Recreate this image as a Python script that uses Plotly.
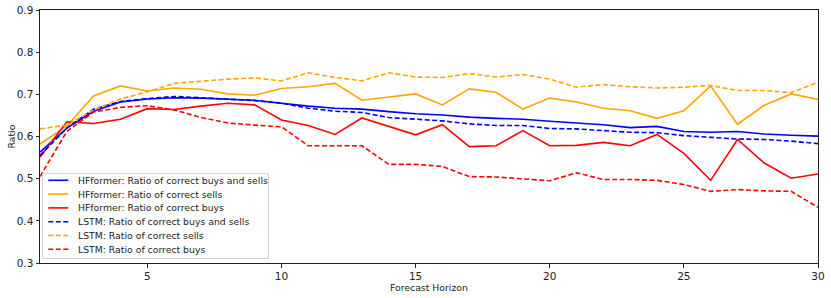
import plotly.graph_objects as go

horizon = list(range(1, 31))

hf_buys_sells = [0.563, 0.620, 0.660, 0.682, 0.689, 0.692, 0.691, 0.689, 0.686, 0.679,
                 0.672, 0.667, 0.665, 0.659, 0.654, 0.651, 0.646, 0.643, 0.641, 0.636,
                 0.632, 0.628, 0.621, 0.624, 0.612, 0.610, 0.612, 0.606, 0.603, 0.601]
hf_sells = [0.582, 0.625, 0.696, 0.720, 0.708, 0.715, 0.712, 0.701, 0.698, 0.714,
            0.718, 0.726, 0.686, 0.694, 0.701, 0.675, 0.713, 0.705, 0.665, 0.691,
            0.682, 0.667, 0.661, 0.643, 0.661, 0.720, 0.629, 0.674, 0.701, 0.688]
hf_buys = [0.551, 0.635, 0.631, 0.641, 0.666, 0.664, 0.672, 0.679, 0.675, 0.639,
           0.626, 0.605, 0.644, 0.624, 0.604, 0.628, 0.576, 0.578, 0.614, 0.578,
           0.579, 0.586, 0.578, 0.605, 0.560, 0.496, 0.593, 0.537, 0.501, 0.511]
lstm_buys_sells = [0.555, 0.620, 0.665, 0.683, 0.690, 0.695, 0.692, 0.689, 0.685, 0.679,
                   0.667, 0.660, 0.657, 0.645, 0.641, 0.637, 0.630, 0.626, 0.626, 0.619,
                   0.618, 0.614, 0.610, 0.609, 0.602, 0.598, 0.594, 0.593, 0.589, 0.583]
lstm_sells = [0.618, 0.627, 0.663, 0.689, 0.706, 0.726, 0.731, 0.736, 0.739, 0.732,
              0.751, 0.740, 0.732, 0.751, 0.741, 0.740, 0.749, 0.741, 0.747, 0.736,
              0.717, 0.723, 0.718, 0.715, 0.717, 0.721, 0.709, 0.709, 0.704, 0.729]
lstm_buys = [0.505, 0.612, 0.658, 0.669, 0.673, 0.663, 0.645, 0.632, 0.627, 0.623,
             0.578, 0.578, 0.578, 0.534, 0.534, 0.529, 0.505, 0.504, 0.499, 0.495,
             0.514, 0.498, 0.498, 0.496, 0.486, 0.470, 0.474, 0.471, 0.470, 0.432]

x_ticks = [5, 10, 15, 20, 25, 30]
y_ticks = [0.3, 0.4, 0.5, 0.6, 0.7, 0.8, 0.9]

series = [
    ("HFformer: Ratio of correct buys and sells", hf_buys_sells, "#0000ff", "solid"),
    ("HFformer: Ratio of correct sells", hf_sells, "#ffa500", "solid"),
    ("HFformer: Ratio of correct buys", hf_buys, "#ff0000", "solid"),
    ("LSTM: Ratio of correct buys and sells", lstm_buys_sells, "#0000ff", "5px,2.5px"),
    ("LSTM: Ratio of correct sells", lstm_sells, "#ffa500", "5px,2.5px"),
    ("LSTM: Ratio of correct buys", lstm_buys, "#ff0000", "5px,2.5px"),
]

W, H = 831, 298
ML, MR, MT, MB = 40, 13, 10, 35
PW, PH = W - ML - MR, H - MT - MB


def px_x(p):
    return (p - ML) / PW


def px_y(p):
    return (H - MB - p) / PH


fig = go.Figure()
shapes = []
annotations = []

# custom legend (matplotlib-like compact layout)
shapes.append(dict(type="rect", xref="paper", yref="paper",
                   x0=px_x(42.5), x1=px_x(268.5), y0=px_y(258.3), y1=px_y(173.7),
                   line=dict(color="#d0d0d0", width=1), fillcolor="rgba(255,255,255,0.85)",
                   layer="above"))

for i, (name, vals, color, dash) in enumerate(series):
    fig.add_trace(go.Scatter(x=horizon, y=vals, mode="lines", name=name, showlegend=False,
                             line=dict(color=color, width=1.6, dash=dash)))
    yc = 180.3 + i * 13.8
    shapes.append(dict(type="line", xref="paper", yref="paper",
                       x0=px_x(48.3), x1=px_x(68.3), y0=px_y(yc), y1=px_y(yc),
                       line=dict(color=color, width=1.6, dash=dash), layer="above"))
    annotations.append(dict(text=name, xref="paper", yref="paper", x=px_x(75.5), y=px_y(yc),
                            xanchor="left", yanchor="middle", showarrow=False,
                            font=dict(size=9.3, color="#222")))

annotations.append(dict(text="Ratio", xref="paper", yref="paper", x=px_x(11), y=0.5,
                        xanchor="center", yanchor="middle", textangle=-90, showarrow=False,
                        font=dict(size=9.3, color="#222")))
annotations.append(dict(text="Forecast Horizon", xref="paper", yref="paper", x=0.5,
                        y=px_y(287.5), xanchor="center", yanchor="middle", showarrow=False,
                        font=dict(size=9.3, color="#222")))

fig.update_layout(
    width=W, height=H,
    margin=dict(l=ML, r=MR, t=MT, b=MB),
    paper_bgcolor="white", plot_bgcolor="white",
    font=dict(family="DejaVu Sans", size=10, color="#222"),
    showlegend=False,
    shapes=shapes, annotations=annotations,
)
fig.update_xaxes(range=[1, 30], tickvals=x_ticks, showgrid=False, automargin=False,
                 zeroline=False, showline=True, linecolor="#222", linewidth=1, mirror=True,
                 ticks="outside", ticklen=3.5, tickcolor="#222",
                 tickfont=dict(size=10.5, color="#222"))
fig.update_yaxes(range=[0.3, 0.9], tickvals=y_ticks, tickformat=".1f", showgrid=False,
                 automargin=False,
                 zeroline=False, showline=True, linecolor="#222", linewidth=1, mirror=True,
                 ticks="outside", ticklen=3.5, tickcolor="#222",
                 tickfont=dict(size=10.5, color="#222"))

fig.write_html("out.html", config={"displayModeBar": False},
               post_script="document.body.style.margin='0';document.body.style.padding='0';")
